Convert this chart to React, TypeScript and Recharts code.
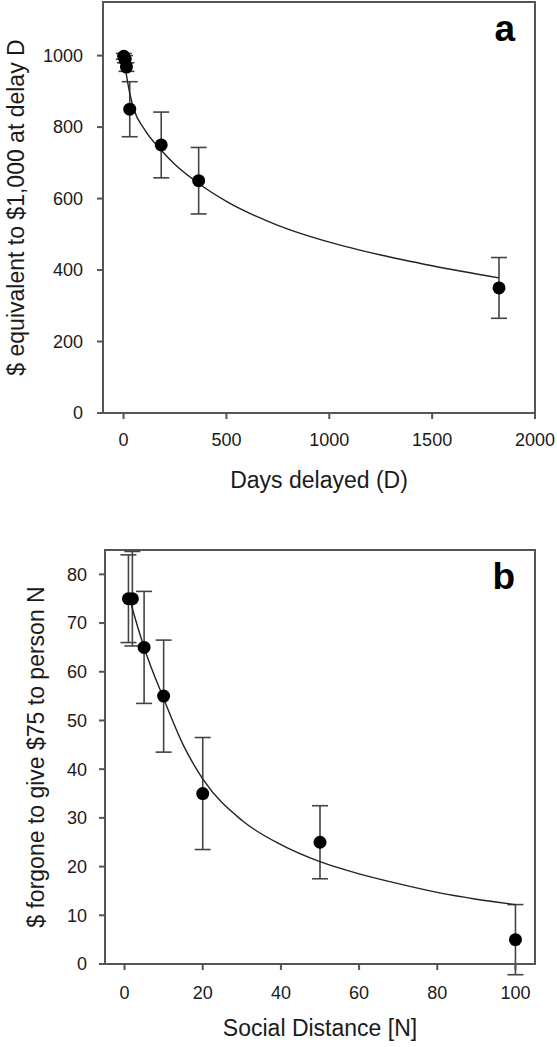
import React from 'react';
import { ComposedChart, Line, Scatter, XAxis, YAxis, ErrorBar, ReferenceArea } from 'recharts';

// Panel a: delay discounting
const delayDays = [1, 7, 14, 30, 183, 365, 1825];
const delayValues = [998, 990, 968, 850, 750, 650, 350];
const delayErrors = [8, 10, 12, 77, 92, 93, 85];
const delayFitDays = [0, 10, 20, 30, 50, 100, 183, 250, 365, 500, 750, 1000, 1250, 1500, 1825];
const delayFitValues = [1000, 960, 925, 895, 850, 795, 735, 695, 642, 592, 525, 478, 442, 412, 378];
const delayXTicks = [0, 500, 1000, 1500, 2000];
const delayYTicks = [0, 200, 400, 600, 800, 1000];

// Panel b: social discounting
const socialN = [1, 2, 5, 10, 20, 50, 100];
const socialValues = [75, 75, 65, 55, 35, 25, 5];
const socialErrors = [9, 9.7, 11.5, 11.5, 11.5, 7.5, 7.2];
const socialFitN = [1, 2, 5, 10, 15, 20, 30, 40, 50, 60, 70, 80, 90, 100];
const socialFitValues = [76, 73, 65, 54.5, 45, 38, 29.5, 24.5, 21, 18.5, 16.5, 14.7, 13.3, 12.2];
const socialXTicks = [0, 20, 40, 60, 80, 100];
const socialYTicks = [0, 10, 20, 30, 40, 50, 60, 70, 80];

const delayPoints = delayDays.map((x, i) => ({ x, y: delayValues[i], err: delayErrors[i] }));
const delayFit = delayFitDays.map((x, i) => ({ x, y: delayFitValues[i] }));
const socialPoints = socialN.map((x, i) => ({ x, y: socialValues[i], err: socialErrors[i] }));
const socialFit = socialFitN.map((x, i) => ({ x, y: socialFitValues[i] }));

const FONT = '"Liberation Sans", Arial, Helvetica, sans-serif';
const AXIS = '#555';
const TEXT = '#1a1a1a';

const dotShape = (p: any) => <circle cx={p.cx} cy={p.cy} r={6.5} fill="#000" />;

const panelLetter = (letter: string) => (props: any) => {
  const vb = props.viewBox || {};
  return (
    <text
      x={vb.x + vb.width - 20}
      y={vb.y + 39}
      textAnchor="end"
      fontFamily={FONT}
      fontWeight="bold"
      fontSize={37}
      fill="#000"
    >
      {letter}
    </text>
  );
};

export default function App() {
  return (
    <div style={{ position: 'absolute', left: 0, top: 0, width: 557, height: 1047, background: '#fff', fontFamily: FONT }}>
      <div style={{ position: 'absolute', left: 0, top: 0 }}>
        <ComposedChart width={557} height={500} margin={{ top: 2, right: 22, bottom: 0, left: 0 }}>
          <XAxis
            type="number"
            dataKey="x"
            domain={[-100, 2000]}
            allowDataOverflow
            ticks={delayXTicks}
            interval={0}
            height={87}
            tickSize={6}
            tickMargin={14}
            axisLine={{ stroke: AXIS, strokeWidth: 2 }}
            tickLine={{ stroke: AXIS, strokeWidth: 2 }}
            tick={{ fill: TEXT, fontSize: 18, fontFamily: FONT }}
            label={{ value: 'Days delayed (D)', position: 'insideBottom', offset: 12, fill: TEXT, fontSize: 23, fontFamily: FONT }}
          />
          <YAxis
            type="number"
            dataKey="y"
            domain={[0, 1150]}
            allowDataOverflow
            ticks={delayYTicks}
            interval={0}
            width={103}
            tickSize={6}
            tickMargin={14}
            axisLine={{ stroke: AXIS, strokeWidth: 2 }}
            tickLine={{ stroke: AXIS, strokeWidth: 2 }}
            tick={{ fill: TEXT, fontSize: 18, fontFamily: FONT }}
            label={{
              value: '$ equivalent to $1,000 at delay D',
              angle: -90,
              position: 'insideLeft',
              offset: 16,
              style: { textAnchor: 'middle' },
              fill: TEXT,
              fontSize: 23,
              fontFamily: FONT,
            }}
          />
          <ReferenceArea
            x1={-100}
            x2={2000}
            y1={0}
            y2={1150}
            fill="none"
            fillOpacity={0}
            stroke={AXIS}
            strokeWidth={2}
            label={panelLetter('a')}
          />
          <Scatter data={delayPoints} dataKey="y" shape={dotShape} isAnimationActive={false}>
            <ErrorBar dataKey="err" direction="y" width={8} stroke="#444" strokeWidth={1.6} isAnimationActive={false} />
          </Scatter>
          <Line
            data={delayFit}
            dataKey="y"
            type="monotone"
            dot={false}
            activeDot={false}
            stroke="#222"
            strokeWidth={1.4}
            isAnimationActive={false}
          />
        </ComposedChart>
      </div>
      <div style={{ position: 'absolute', left: 0, top: 500 }}>
        <ComposedChart width={557} height={547} margin={{ top: 50, right: 22, bottom: 0, left: 0 }}>
          <XAxis
            type="number"
            dataKey="x"
            domain={[-5, 105]}
            allowDataOverflow
            ticks={socialXTicks}
            interval={0}
            height={83}
            tickSize={6}
            tickMargin={16}
            axisLine={{ stroke: AXIS, strokeWidth: 2 }}
            tickLine={{ stroke: AXIS, strokeWidth: 2 }}
            tick={{ fill: TEXT, fontSize: 18, fontFamily: FONT }}
            label={{ value: 'Social Distance [N]', position: 'insideBottom', offset: 11, fill: TEXT, fontSize: 23, fontFamily: FONT }}
          />
          <YAxis
            type="number"
            dataKey="y"
            domain={[0, 85]}
            allowDataOverflow
            ticks={socialYTicks}
            interval={0}
            width={105}
            tickSize={6}
            tickMargin={12}
            axisLine={{ stroke: AXIS, strokeWidth: 2 }}
            tickLine={{ stroke: AXIS, strokeWidth: 2 }}
            tick={{ fill: TEXT, fontSize: 18, fontFamily: FONT }}
            label={{
              value: '$ forgone to give $75 to person N',
              angle: -90,
              position: 'insideLeft',
              offset: 36,
              style: { textAnchor: 'middle' },
              fill: TEXT,
              fontSize: 23,
              fontFamily: FONT,
            }}
          />
          <ReferenceArea
            x1={-5}
            x2={105}
            y1={0}
            y2={85}
            fill="none"
            fillOpacity={0}
            stroke={AXIS}
            strokeWidth={2}
            label={panelLetter('b')}
          />
          <Scatter data={socialPoints} dataKey="y" shape={dotShape} isAnimationActive={false}>
            <ErrorBar dataKey="err" direction="y" width={8} stroke="#444" strokeWidth={1.6} isAnimationActive={false} />
          </Scatter>
          <Line
            data={socialFit}
            dataKey="y"
            type="monotone"
            dot={false}
            activeDot={false}
            stroke="#222"
            strokeWidth={1.4}
            isAnimationActive={false}
          />
        </ComposedChart>
      </div>
    </div>
  );
}
